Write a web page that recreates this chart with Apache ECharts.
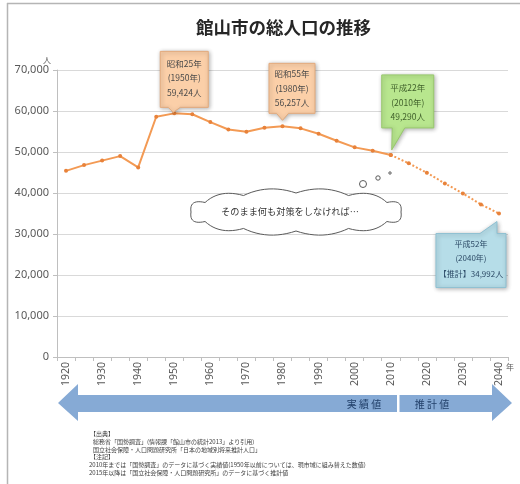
<!DOCTYPE html>
<html>
<head>
<meta charset="utf-8">
<script src="https://cdn.jsdelivr.net/npm/echarts@6/dist/echarts.min.js"></script>
<style>
html,body{margin:0;padding:0;background:#fff;}
#c{width:520px;height:484px;}
</style>
</head>
<body>
<div id="c"></div>
<script>
const years = ['1920','1925','1930','1935','1940','1945','1950','1955','1960','1965','1970','1975','1980','1985','1990','1995','2000','2005','2010','2015','2020','2025','2030','2035','2040'];
const actual = [45400, 46800, 47900, 49000, 46250, 58600, 59424, 59200, 57300, 55500, 54950, 55900, 56257, 55770, 54460, 52750, 51130, 50300, 49290];
const projected = [47230, 44930, 42340, 39900, 37220, 34992];
const yMin = 0, yMax = 70000, yStep = 10000;

const callouts = [
  {year:'1950', lines:['昭和25年','(1950年)','59,424人'], fill:'#fbcfa8', stroke:'#e3aa7c', color:'#4a4a4a', fs:8.5,
   box:[-14,-62,34,-6], tail:'bottom', base:[-6,6], tip:[-1,-1], tx:10, ty:[-50,-36,-21]},
  {year:'1980', lines:['昭和55年','(1980年)','56,257人'], fill:'#fbcfa8', stroke:'#e3aa7c', color:'#4a4a4a', fs:8.5,
   box:[-13.5,-63,32.5,-13], tail:'bottom', base:[-6,6], tip:[0,-6], tx:9.5, ty:[-53,-38,-24]},
  {year:'2010', lines:['平成22年','(2010年)','49,290人'], fill:'#b8e68e', stroke:'#98c96c', color:'#3f5f2a', fs:8.5,
   box:[-9,-80,43,-27], tail:'bottom', base:[1.5,14], tip:[1,-5], tx:17, ty:[-67,-52,-38]},
  {year:'2040', lines:['平成52年','(2040年)','【推計】34,992人'], fill:'#b6dde8', stroke:'#8fc0d2', color:'#2c4a66', fs:8,
   box:[-63,20,7,74], tail:'top', base:[-19,-2], tip:[-2,8], tx:-28, ty:[30,44,60]}
];

const notes = [
  {t:'【出典】', x:90, y:434},
  {t:'総務省「国勢調査」(情報課「館山市の統計2013」より引用)', x:93, y:442},
  {t:'国立社会保障・人口問題研究所「日本の地域別将来推計人口」', x:93, y:450},
  {t:'【注記】', x:90, y:457},
  {t:'2010年までは「国勢調査」のデータに基づく実績値(1950年以前については、現市域に組み替えた数値)', x:89, y:465},
  {t:'2015年以降は「国立社会保障・人口問題研究所」のデータに基づく推計値', x:89, y:473}
];

const FONT = '"Noto Sans CJK JP", "Noto Sans", sans-serif';
const nActual = actual.length;
const s1 = years.map((y,i)=> i<nActual ? actual[i] : null);
const s2 = years.map((y,i)=> i<nActual-1 ? null : (i===nActual-1 ? actual[nActual-1] : projected[i-nActual]));
const allVals = years.map((y,i)=> i<nActual ? actual[i] : projected[i-nActual]);

const chart = echarts.init(document.getElementById('c'), null, {renderer:'canvas'});
chart.setOption({
  animation:false,
  backgroundColor:'#fff',
  title:{text:'館山市の総人口の推移', left:191, top:14,
    textStyle:{fontFamily:FONT, fontSize:17.5, fontWeight:'bold', color:'#262626'}},
  grid:{left:57, right:12, top:70, bottom:127, containLabel:false},
  xAxis:{type:'category', data:years, boundaryGap:true,
    axisLine:{lineStyle:{color:'#bfbfbf'}},
    axisTick:{show:true, interval:0, length:4, lineStyle:{color:'#bfbfbf'}},
    axisLabel:{interval:1, rotate:90, margin:5, fontSize:10.5, color:'#595959', fontFamily:'"Noto Sans", sans-serif'},
    splitLine:{show:false}},
  yAxis:{type:'value', min:yMin, max:yMax, interval:yStep,
    axisLine:{show:true, lineStyle:{color:'#bfbfbf'}},
    axisTick:{show:true, length:4, lineStyle:{color:'#bfbfbf'}},
    axisLabel:{fontSize:11, color:'#595959', margin:8, fontFamily:'"Noto Sans", sans-serif',
      formatter:v=>v.toLocaleString('en-US')},
    splitLine:{lineStyle:{color:'#d9d9d9'}}},
  series:[
    {type:'line', data:s1, symbol:'circle', symbolSize:4, connectNulls:false,
      lineStyle:{color:'#f39a54', width:2}, itemStyle:{color:'#e8823a'}, z:3},
    {type:'line', data:s2, symbol:'circle', symbolSize:4, connectNulls:false,
      lineStyle:{color:'#f39a54', width:2, type:'dotted'}, itemStyle:{color:'#e8823a'}, z:3}
  ]
});

function cloudPoints(cx, cy, rx, ry, n, h){
  const pt = a => [cx + rx*Math.cos(a), cy + ry*Math.sin(a)];
  const nrm = a => { const nx = Math.cos(a)/rx, ny = Math.sin(a)/ry; const l = Math.hypot(nx,ny); return [nx/l, ny/l]; };
  const pts = [];
  for (let i=0;i<n;i++){
    const a0 = 2*Math.PI*i/n, a1 = 2*Math.PI*(i+1)/n, am = 2*Math.PI*(i+0.5)/n;
    const s = pt(a0), m = pt(am), nn = nrm(am), e = pt(a1);
    const c = [m[0]+nn[0]*h*2, m[1]+nn[1]*h*2];
    for (let k=0;k<12;k++){
      const t = k/12, u = 1-t;
      pts.push([u*u*s[0]+2*u*t*c[0]+t*t*e[0], u*u*s[1]+2*u*t*c[1]+t*t*e[1]]);
    }
  }
  return pts;
}

const g = [];
// frame
g.push({type:'line', shape:{x1:7, y1:3.5, x2:520, y2:3.5}, style:{stroke:'#b5b5b5', lineWidth:1.5}, silent:true});
g.push({type:'line', shape:{x1:7.5, y1:3, x2:7.5, y2:484}, style:{stroke:'#b5b5b5', lineWidth:1.5}, silent:true});
// units
g.push({type:'text', x:47, y:60, style:{text:'人', font:'8px '+FONT, fill:'#595959', textAlign:'center', textVerticalAlign:'middle'}});
g.push({type:'text', x:510, y:367, style:{text:'年', font:'8px '+FONT, fill:'#595959', textAlign:'center', textVerticalAlign:'middle'}});

// callouts
callouts.forEach(c=>{
  const idx = years.indexOf(c.year);
  const P = chart.convertToPixel({seriesIndex:0}, [idx, allVals[idx]]);
  const [x1,y1,x2,y2] = c.box.map((v,k)=> v + (k%2===0?P[0]:P[1]));
  const b1 = P[0]+c.base[0], b2 = P[0]+c.base[1];
  const tp = [P[0]+c.tip[0], P[1]+c.tip[1]];
  let pts;
  if (c.tail==='bottom') pts = [[x1,y1],[x2,y1],[x2,y2],[b2,y2],tp,[b1,y2],[x1,y2]];
  else pts = [[x1,y1],[b1,y1],tp,[b2,y1],[x2,y1],[x2,y2],[x1,y2]];
  g.push({type:'polygon', shape:{points:pts}, z:10,
    style:{fill:c.fill, stroke:c.stroke, lineWidth:1, shadowBlur:4, shadowColor:'rgba(0,0,0,0.3)', shadowOffsetX:1, shadowOffsetY:1}});
  c.lines.forEach((t,k)=>{
    g.push({type:'text', x:P[0]+c.tx, y:P[1]+c.ty[k], z:11,
      style:{text:t, font:c.fs+'px '+FONT, fill:c.color, textAlign:'center', textVerticalAlign:'middle'}});
  });
});

// cloud
g.push({type:'polygon', shape:{points:cloudPoints(296, 212, 105, 19, 12, 5)}, z:10,
  style:{fill:'#fff', stroke:'#5a5a5a', lineWidth:1}});
[[363,184,3.5],[378,178,2.2],[390,173,1.2]].forEach(c=>{
  g.push({type:'circle', shape:{cx:c[0], cy:c[1], r:c[2]}, z:10, style:{fill:'#fff', stroke:'#5a5a5a', lineWidth:1}});
});
g.push({type:'text', x:290, y:212, z:11, style:{text:'そのまま何も対策をしなければ…', font:'9.2px '+FONT, fill:'#333', textAlign:'center', textVerticalAlign:'middle'}});

// arrow
g.push({type:'polygon', z:5, shape:{points:[[58,403],[78,384],[78,395],[492,395],[492,384],[512,403],[492,421],[492,412],[78,412],[78,421]]},
  style:{fill:'#86aad5'}});
g.push({type:'rect', z:6, shape:{x:397, y:394, width:2.5, height:19}, style:{fill:'#fff'}});
g.push({type:'text', x:364, y:404, z:7, style:{text:'実 績 値', font:'10px '+FONT, fill:'#22406a', textAlign:'center', textVerticalAlign:'middle'}});
g.push({type:'text', x:432, y:404, z:7, style:{text:'推 計 値', font:'10px '+FONT, fill:'#22406a', textAlign:'center', textVerticalAlign:'middle'}});

// notes
notes.forEach(n=>{
  g.push({type:'text', x:n.x, y:n.y, style:{text:n.t, font:'6px '+FONT, fill:'#404040', textAlign:'left', textVerticalAlign:'middle'}});
});

chart.setOption({graphic:g});
</script>
</body>
</html>
